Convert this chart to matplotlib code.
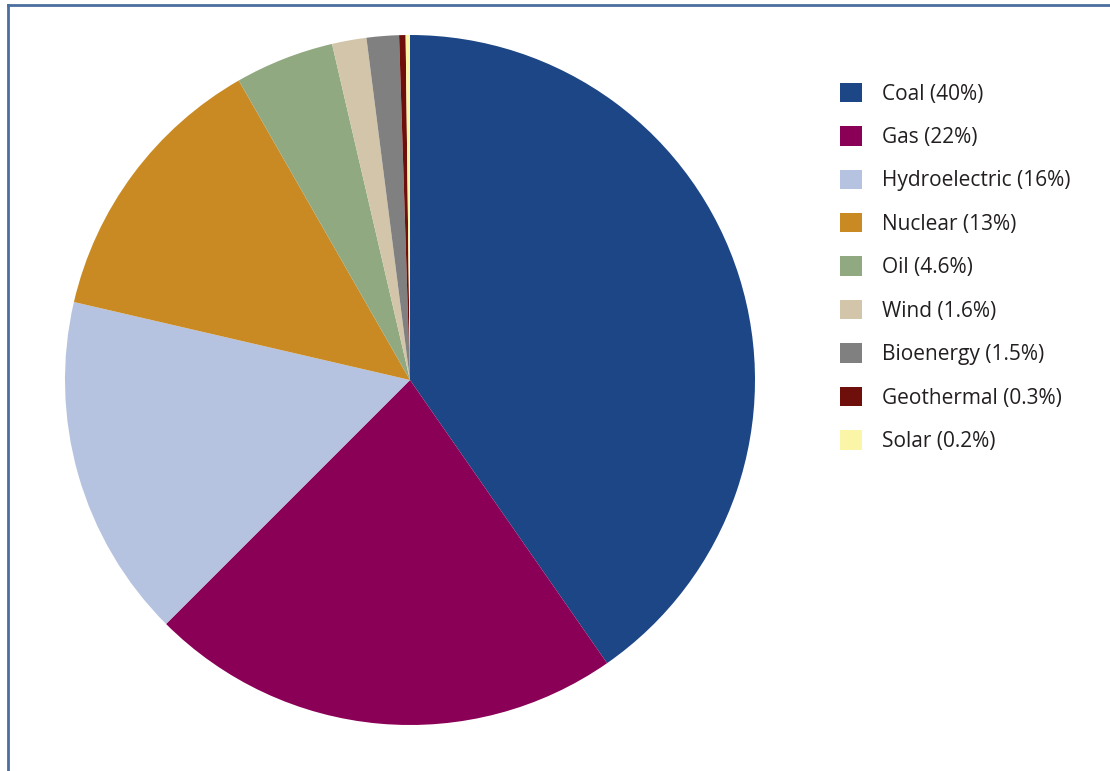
import matplotlib.pyplot as plt
from matplotlib.lines import Line2D

# share of electricity generation by source
sources = ['Coal', 'Gas', 'Hydroelectric', 'Nuclear', 'Oil', 'Wind',
           'Bioenergy', 'Geothermal', 'Solar']
shares = [40, 22, 16, 13, 4.6, 1.6, 1.5, 0.3, 0.2]
share_labels = ['40%', '22%', '16%', '13%', '4.6%', '1.6%', '1.5%', '0.3%', '0.2%']
colors = ['#1c4685', '#8b0057', '#b5c3e0', '#c98a23', '#90a981',
          '#d2c5a9', '#808080', '#6e0f0b', '#fbf5a8']

plt.rcParams['font.family'] = ['Open Sans', 'DejaVu Sans']

W, H = 1110, 771
fig = plt.figure(figsize=(W / 100, H / 100), dpi=100)

cx, cy, r = 410, 380, 345
ax = fig.add_axes([(cx - r) / W, (H - cy - r) / H, 2 * r / W, 2 * r / H])
wedges, _ = ax.pie(shares, colors=colors, startangle=90, counterclock=False,
                   wedgeprops={'linewidth': 0})
ax.set_xlim(-1, 1)
ax.set_ylim(-1, 1)
ax.set_aspect('equal')
ax.axis('off')

labels = [f'{s} ({p})' for s, p in zip(sources, share_labels)]
fig.legend(wedges, labels, loc='upper left',
           bbox_to_anchor=(821 / W, 1 - 64 / H), frameon=False,
           fontsize=15, handlelength=1.05, handleheight=1.05,
           handletextpad=1.0, labelspacing=1.04, labelcolor='#231f20')

# frame lines on the top and left edge
bc = '#4a6f9e'
fig.add_artist(Line2D([8 / W, 8 / W], [0, 1 - 5 / H], color=bc, lw=2,
                      transform=fig.transFigure))
fig.add_artist(Line2D([8 / W, 1], [1 - 5 / H, 1 - 5 / H], color=bc, lw=2,
                      transform=fig.transFigure))

fig.savefig('out.png', dpi=100)
